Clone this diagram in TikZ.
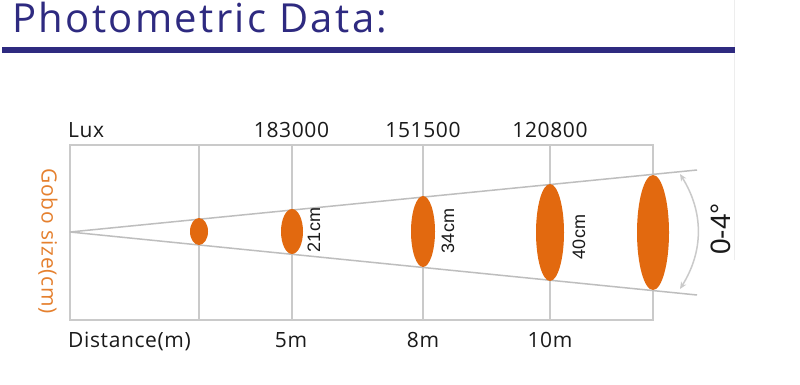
\documentclass[tikz,border=0pt]{standalone}
\usepackage{fontspec}
\usetikzlibrary{arrows.meta,shapes.geometric}
\newfontfamily\titlefont[LetterSpace=6]{Open Sans}
\newfontfamily\lblfont[LetterSpace=3]{Open Sans}
\newfontfamily\dimfont{Liberation Sans}
\definecolor{titleblue}{HTML}{2E2A80}
\definecolor{gridgray}{HTML}{CACACA}
\definecolor{conegray}{HTML}{BEBEBE}
\definecolor{spotorange}{HTML}{E2690F}
\definecolor{goboorange}{HTML}{E5802E}
\definecolor{txt}{HTML}{1A1A1A}
\begin{document}
\begin{tikzpicture}[x=1pt,y=-1pt,
  titletext/.style={font=\titlefont\fontsize{40}{44}\selectfont, text=titleblue, inner sep=0, anchor=base west},
  axislabel/.style={font=\lblfont\fontsize{21}{24}\selectfont, text=txt, inner sep=0},
  dimlabel/.style={font=\dimfont\fontsize{18}{20}\selectfont, text=txt, inner sep=0, rotate=90},
  spot/.style={ellipse, fill=spotorange, inner sep=0, draw=none},
  gridline/.style={draw=gridgray, line width=1.8pt},
  coneline/.style={draw=conegray, line width=1.5pt},
  anglearc/.style={draw=gridgray, line width=1.5pt, {Stealth[length=7pt,width=6pt]}-{Stealth[length=7pt,width=6pt]}}
]
\useasboundingbox[fill=white] (0,0) rectangle (800,385);

% faint page edge
\coordinate (edgeT) at (734,0);
\coordinate (edgeB) at (734,260);
\draw[black!7, line width=0.6pt] (edgeT) -- (edgeB);

% title and bar
\node[titletext] (title) at (12,33) {Photometric Data:};
\coordinate (barL) at (2,50);
\coordinate (barR) at (735,50);
\draw[titleblue, line width=5.5pt] (barL) -- (barR);

% frame
\coordinate (fTL) at (70,145);
\coordinate (fBR) at (653,320);
\draw[gridline] (fTL) rectangle (fBR);
\foreach \n/\x in {a/199,b/292,c/423,d/550}{
  \coordinate (v\n T) at (\x,145);
  \coordinate (v\n B) at (\x,320);
  \draw[gridline] (v\n T) -- (v\n B);
}

% cone
\coordinate (apex) at (70,232);
\coordinate (coneU) at (697,170);
\coordinate (coneL) at (697,295);
\draw[coneline] (coneU) -- (apex) -- (coneL);

% spots
\node[spot, minimum width=18pt, minimum height=27pt] (s1) at (199,231.5) {};
\node[spot, minimum width=22pt, minimum height=45pt] (s2) at (292,231.5) {};
\node[spot, minimum width=24pt, minimum height=71pt] (s3) at (423,231.5) {};
\node[spot, minimum width=28pt, minimum height=97pt] (s4) at (550,232.5) {};
\node[spot, minimum width=32pt, minimum height=115pt] (s5) at (653,232.5) {};

% angle arc
\coordinate (arcT) at (680,174);
\coordinate (arcB) at (680,289);
\draw[anglearc] (arcT) to[bend left=32] (arcB);
\node[font=\dimfont\fontsize{28}{30}\selectfont, text=txt, inner sep=0, rotate=90] (ang) at (721,229) {0-4°};

% dimension labels
\node[dimlabel] (d21) at (314,230) {21cm};
\node[dimlabel] (d34) at (448,231) {34cm};
\node[dimlabel] (d40) at (579,237) {40cm};

% axis labels
\node[axislabel, anchor=base west] (lux) at (68,137) {Lux};
\node[axislabel, anchor=base] (l1) at (291.5,138) {183000};
\node[axislabel, anchor=base] (l2) at (423,138) {151500};
\node[axislabel, anchor=base] (l3) at (550,138) {120800};
\node[axislabel, anchor=base west] (dist) at (68,347) {Distance(m)};
\node[axislabel, anchor=base] (m5) at (291,347) {5m};
\node[axislabel, anchor=base] (m8) at (423,347) {8m};
\node[axislabel, anchor=base] (m10) at (550,347) {10m};
\node[axislabel, text=goboorange, rotate=-90] (gobo) at (48,241) {Gobo size(cm)};
\end{tikzpicture}
\end{document}
